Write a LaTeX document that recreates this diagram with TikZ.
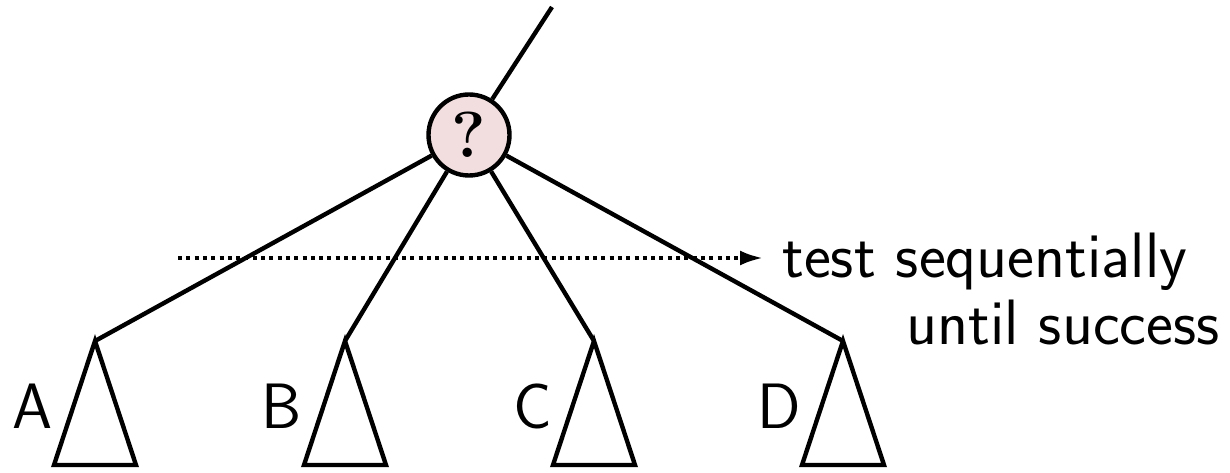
\documentclass[tikz,border=0pt]{standalone}
\usetikzlibrary{arrows.meta}
\definecolor{nodepink}{RGB}{242,222,222}
\tikzset{
  edge/.style={line width=2.5pt},
  subtree/.style={line width=2.5pt, line join=miter},
  choice/.style={circle, draw, line width=2.5pt, fill=nodepink, minimum size=1.62cm, inner sep=0pt,
                 font=\fontsize{37}{43}\selectfont\bfseries\rmfamily},
  lbl/.style={inner sep=0pt, anchor=base, font=\fontsize{36.5}{43}\selectfont\sffamily},
  note/.style={inner sep=0pt, anchor=base west, font=\fontsize{36.5}{43}\selectfont\sffamily},
  scan/.style={line width=2.2pt, dash pattern=on 0.08cm off 0.086cm,
               -{Latex[length=0.46cm,width=0.3cm]}}
}
\begin{document}
\begin{tikzpicture}
\useasboundingbox (0,0) rectangle (24.6,9.44);

% choice node and its incoming edge
\node[choice] (q) at (9.38,6.74) {?};
\coordinate (top) at (11.04,9.30);
\draw[edge] (q) -- (top);

% subtree apexes
\coordinate (tA) at (1.90,2.62);
\coordinate (tB) at (6.90,2.62);
\coordinate (tC) at (11.88,2.62);
\coordinate (tD) at (16.86,2.62);

% edges to the subtrees
\foreach \t in {tA,tB,tC,tD}
  \draw[edge] (q) -- (\t);

% subtrees as triangles
\foreach \t in {tA,tB,tC,tD}
  \draw[subtree] (\t) -- ++(-0.82,-2.48) -- ++(1.64,0) -- cycle;

% subtree labels
\node[lbl] (lA) at (0.66,0.88) {A};
\node[lbl] (lB) at (5.64,0.88) {B};
\node[lbl] (lC) at (10.66,0.88) {C};
\node[lbl] (lD) at (15.58,0.88) {D};

% sequential testing arrow and note
\coordinate (scanstart) at (3.56,4.28);
\node[note] (n1) at (15.64,3.88) {test sequentially};
\node[note] (n2) at (18.12,2.54) {until success};
\draw[scan] (scanstart) -- ([xshift=-0.38cm]n1.west |- scanstart);
\end{tikzpicture}
\end{document}
